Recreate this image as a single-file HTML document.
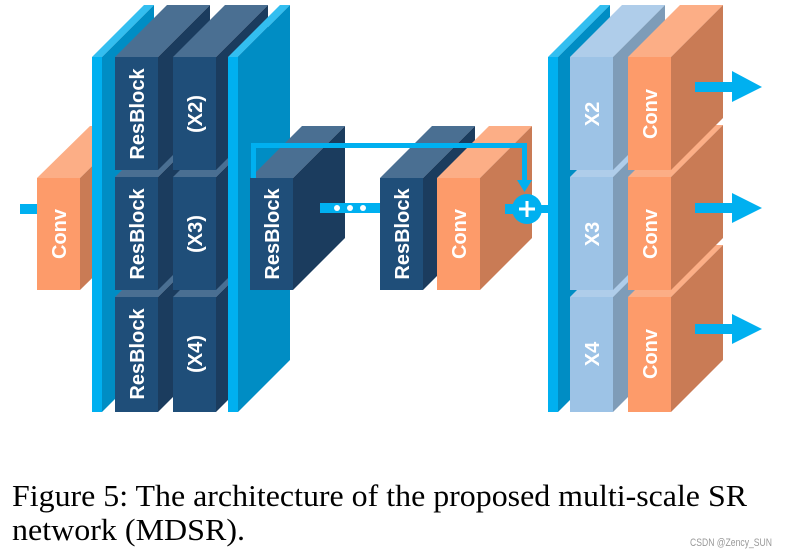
<!DOCTYPE html>
<html><head><meta charset="utf-8"><style>
body{margin:0;background:#fff;width:790px;height:550px;overflow:hidden}
.t{font-family:"Liberation Sans",sans-serif;font-weight:bold;fill:#fff;font-size:20px;text-anchor:middle}
.c{font-family:"Liberation Serif",serif;font-size:31px;fill:#000}
</style></head><body>
<svg width="790" height="550" xmlns="http://www.w3.org/2000/svg">
<rect x="20" y="204" width="20" height="10" fill="#00B0F0"/>
<polygon points="37,178 90,126 133,126 80,178" fill="#FCAE86"/>
<polygon points="80,178 133,126 133,238 80,290" fill="#C97B55"/>
<rect x="37" y="178" width="43" height="112" fill="#FD9B6A"/>
<text class="t" transform="translate(66,234) rotate(-90)">Conv</text>
<polygon points="92,57 144,5 154,5 102,57" fill="#33BEF0"/>
<polygon points="102,57 154,5 154,360 102,412" fill="#008DC4"/>
<rect x="92" y="57" width="10" height="355" fill="#00B0F0"/>
<g>
<polygon points="115,297 167,245 210,245 158,297" fill="#4A6F92"/><polygon points="158,297 210,245 210,360 158,412" fill="#1B3C5E"/><rect x="115" y="297" width="43" height="115" fill="#1F4E79"/>
<polygon points="115,177 167,125 210,125 158,177" fill="#4A6F92"/><polygon points="158,177 210,125 210,238 158,290" fill="#1B3C5E"/><rect x="115" y="177" width="43" height="113" fill="#1F4E79"/>
<polygon points="115,57 167,5 210,5 158,57" fill="#4A6F92"/><polygon points="158,57 210,5 210,118 158,170" fill="#1B3C5E"/><rect x="115" y="57" width="43" height="113" fill="#1F4E79"/>
</g>
<g>
<polygon points="173,297 225,245 268,245 216,297" fill="#4A6F92"/><polygon points="216,297 268,245 268,360 216,412" fill="#1B3C5E"/><rect x="173" y="297" width="43" height="115" fill="#1F4E79"/>
<polygon points="173,177 225,125 268,125 216,177" fill="#4A6F92"/><polygon points="216,177 268,125 268,238 216,290" fill="#1B3C5E"/><rect x="173" y="177" width="43" height="113" fill="#1F4E79"/>
<polygon points="173,57 225,5 268,5 216,57" fill="#4A6F92"/><polygon points="216,57 268,5 268,118 216,170" fill="#1B3C5E"/><rect x="173" y="57" width="43" height="113" fill="#1F4E79"/>
</g>
<text class="t" transform="translate(144,114) rotate(-90)">ResBlock</text>
<text class="t" transform="translate(144,234) rotate(-90)">ResBlock</text>
<text class="t" transform="translate(144,354) rotate(-90)">ResBlock</text>
<text class="t" transform="translate(202,114) rotate(-90)">(X2)</text>
<text class="t" transform="translate(202,234) rotate(-90)">(X3)</text>
<text class="t" transform="translate(202,354) rotate(-90)">(X4)</text>
<polygon points="228,57 280,5 290,5 238,57" fill="#33BEF0"/>
<polygon points="238,57 290,5 290,360 238,412" fill="#008DC4"/>
<rect x="228" y="57" width="10" height="355" fill="#00B0F0"/>
<polygon points="250,178 302,126 345,126 293,178" fill="#4A6F92"/><polygon points="293,178 345,126 345,238 293,290" fill="#1B3C5E"/><rect x="250" y="178" width="43" height="112" fill="#1F4E79"/>
<text class="t" transform="translate(279,234) rotate(-90)">ResBlock</text>
<rect x="320" y="203" width="60" height="10" fill="#00B0F0"/>
<circle cx="337" cy="208" r="3" fill="#fff"/><circle cx="350" cy="208" r="3" fill="#fff"/><circle cx="363" cy="208" r="3" fill="#fff"/>
<polygon points="380,178 432,126 475,126 423,178" fill="#4A6F92"/><polygon points="423,178 475,126 475,238 423,290" fill="#1B3C5E"/><rect x="380" y="178" width="43" height="112" fill="#1F4E79"/>
<text class="t" transform="translate(409,234) rotate(-90)">ResBlock</text>
<polygon points="437,178 489,126 532,126 480,178" fill="#FCAE86"/><polygon points="480,178 532,126 532,238 480,290" fill="#C97B55"/><rect x="437" y="178" width="43" height="112" fill="#FD9B6A"/>
<text class="t" transform="translate(466,234) rotate(-90)">Conv</text>
<polyline points="253.5,178 253.5,145.5 524.5,145.5 524.5,182" fill="none" stroke="#00B0F0" stroke-width="5"/>
<polygon points="517,180 532,180 524.5,192" fill="#00B0F0"/>
<rect x="505" y="204" width="10" height="10" fill="#00B0F0"/>
<circle cx="527" cy="209" r="15" fill="#00B0F0"/>
<rect x="519" y="207.5" width="16" height="3" fill="#fff"/><rect x="525.5" y="201" width="3" height="16" fill="#fff"/>
<rect x="540" y="205" width="10" height="8" fill="#00B0F0"/>
<polygon points="548,57 600,5 610,5 558,57" fill="#33BEF0"/>
<polygon points="558,57 610,5 610,360 558,412" fill="#008DC4"/>
<rect x="548" y="57" width="10" height="355" fill="#00B0F0"/>
<polygon points="570,297 622,245 665,245 613,297" fill="#AFCDEA"/><polygon points="613,297 665,245 665,360 613,412" fill="#7E9CB8"/><rect x="570" y="297" width="43" height="115" fill="#9DC3E6"/>
<polygon points="570,177 622,125 665,125 613,177" fill="#AFCDEA"/><polygon points="613,177 665,125 665,238 613,290" fill="#7E9CB8"/><rect x="570" y="177" width="43" height="113" fill="#9DC3E6"/>
<polygon points="570,57 622,5 665,5 613,57" fill="#AFCDEA"/><polygon points="613,57 665,5 665,118 613,170" fill="#7E9CB8"/><rect x="570" y="57" width="43" height="113" fill="#9DC3E6"/>
<text class="t" transform="translate(599,114) rotate(-90)">X2</text>
<text class="t" transform="translate(599,234) rotate(-90)">X3</text>
<text class="t" transform="translate(599,354) rotate(-90)">X4</text>
<polygon points="628,297 680,245 723,245 671,297" fill="#FCAE86"/><polygon points="671,297 723,245 723,360 671,412" fill="#C97B55"/><rect x="628" y="297" width="43" height="115" fill="#FD9B6A"/>
<polygon points="628,177 680,125 723,125 671,177" fill="#FCAE86"/><polygon points="671,177 723,125 723,238 671,290" fill="#C97B55"/><rect x="628" y="177" width="43" height="113" fill="#FD9B6A"/>
<polygon points="628,57 680,5 723,5 671,57" fill="#FCAE86"/><polygon points="671,57 723,5 723,118 671,170" fill="#C97B55"/><rect x="628" y="57" width="43" height="113" fill="#FD9B6A"/>
<text class="t" transform="translate(657,114) rotate(-90)">Conv</text>
<text class="t" transform="translate(657,234) rotate(-90)">Conv</text>
<text class="t" transform="translate(657,354) rotate(-90)">Conv</text>
<rect x="695" y="82" width="40" height="10" fill="#00B0F0"/><polygon points="732,71 762,87 732,102" fill="#00B0F0"/>
<rect x="695" y="203" width="40" height="10" fill="#00B0F0"/><polygon points="732,193 762,208 732,223" fill="#00B0F0"/>
<rect x="695" y="324" width="40" height="10" fill="#00B0F0"/><polygon points="732,314 762,329 732,344" fill="#00B0F0"/>
<text class="c" x="12" y="506" textLength="735" lengthAdjust="spacingAndGlyphs">Figure 5: The architecture of the proposed multi-scale SR</text>
<text class="c" x="12" y="540" textLength="233" lengthAdjust="spacingAndGlyphs">network (MDSR).</text>
<text x="690" y="546" font-family="Liberation Sans,sans-serif" font-size="11" fill="#999" textLength="82" lengthAdjust="spacingAndGlyphs">CSDN @Zency_SUN</text>
</svg>
</body></html>
